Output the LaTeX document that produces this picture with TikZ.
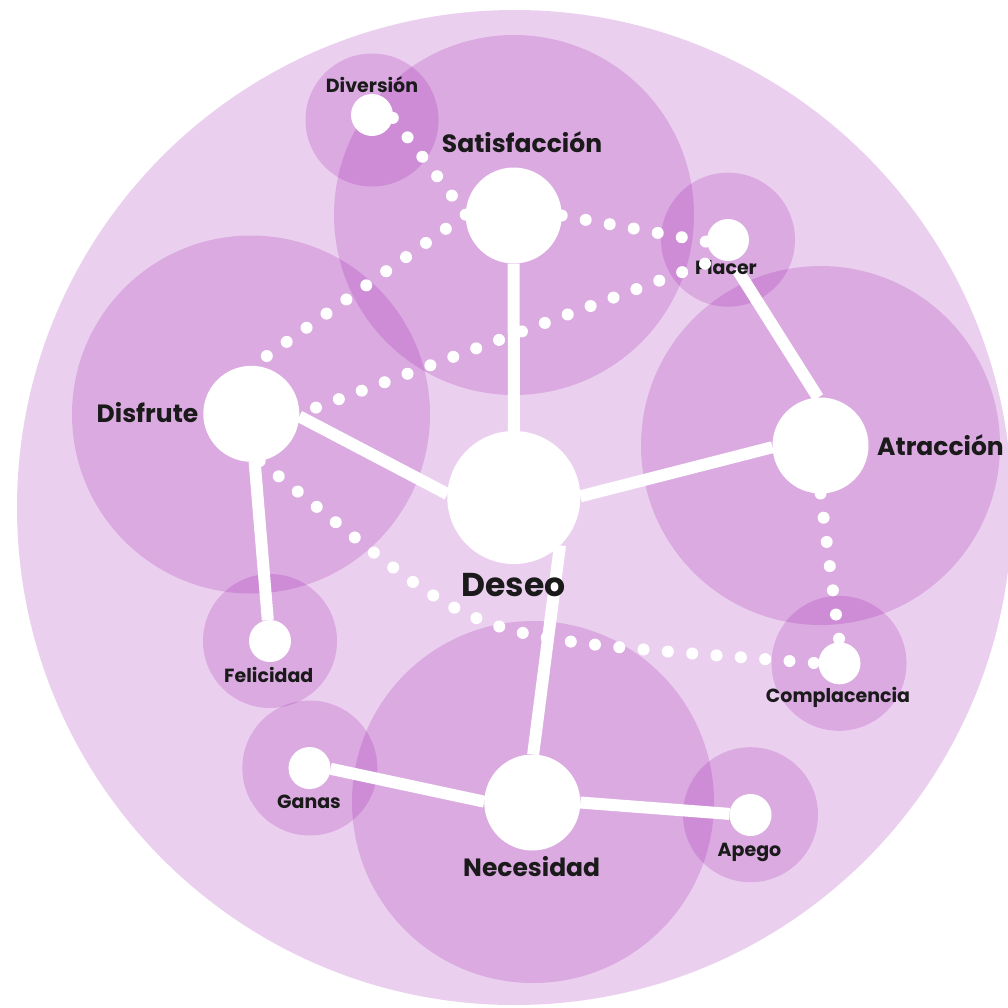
\documentclass[tikz,border=0pt]{standalone}
\usepackage{fontspec}
\setmainfont{Poppins}
\definecolor{plum}{RGB}{152,20,170}
\definecolor{ink}{RGB}{26,26,26}
\begin{document}
\begin{tikzpicture}[x=1pt,y=-1pt,
  halo/.style={fill=plum,fill opacity=0.2,draw=none},
  hubnode/.style={circle,fill=white,draw=none,inner sep=0pt,outer sep=0pt,minimum size=133pt},
  majornode/.style={circle,fill=white,draw=none,inner sep=0pt,outer sep=0pt,minimum size=96pt},
  minornode/.style={circle,fill=white,draw=none,inner sep=0pt,outer sep=0pt,minimum size=42pt},
  link/.style={draw=white,line width=12pt},
  dotlink/.style={draw=white,line width=12pt,line cap=round,dash pattern=on 0pt off 24.4pt},
  hublabel/.style={text=ink,anchor=base,inner sep=0pt,font=\bfseries\fontsize{33}{33}\selectfont},
  biglabel/.style={text=ink,anchor=base,inner sep=0pt,font=\bfseries\fontsize{25}{25}\selectfont},
  smalllabel/.style={text=ink,anchor=base,inner sep=0pt,font=\bfseries\fontsize{19}{19}\selectfont}]
\useasboundingbox (0,0) rectangle (1008,1007);
\clip (0,0) rectangle (1008,1007);
% halos
\fill[halo] (514.5,507.5) circle[radius=497.5pt];
\fill[halo] (514,215) circle[radius=180pt];
\fill[halo] (251,414.5) circle[radius=179pt];
\fill[halo] (820.5,445.5) circle[radius=179.5pt];
\fill[halo] (533,802) circle[radius=181pt];
\fill[halo] (372,120) circle[radius=66.5pt];
\fill[halo] (728,239.7) circle[radius=67pt];
\fill[halo] (270,641) circle[radius=67pt];
\fill[halo] (309.8,768) circle[radius=67.5pt];
\fill[halo] (839,663.3) circle[radius=67.5pt];
\fill[halo] (750.5,814.7) circle[radius=67.5pt];
% nodes
\node[hubnode] (deseo) at (513.8,497.5) {};
\node[majornode] (sat) at (513.7,215.5) {};
\node[majornode] (dis) at (251.3,413.8) {};
\node[majornode] (atr) at (820.5,445.5) {};
\node[majornode] (nec) at (532.3,802.5) {};
\node[minornode] (ndiv) at (372,115) {};
\node[minornode] (pla) at (728,240) {};
\node[minornode] (fel) at (270,641) {};
\node[minornode] (gan) at (309.5,768) {};
\node[minornode] (com) at (839.5,663.3) {};
\node[minornode] (ape) at (750.5,815) {};
% solid links
\draw[link] (sat.south) -- (deseo.north);
\draw[link] (dis.-3.7) -- (deseo.177);
\draw[link] (deseo.1) -- (atr.182);
\draw[link] (deseo.-46) -- (nec.89);
\draw[link,shorten <=9pt] (pla.-80) -- (atr.93);
\draw[link] (dis.-86) -- (fel.96);
\draw[link] (gan.-2) -- (nec.179);
\draw[link] (nec.0) -- (ape.177);
% labels
\node[hublabel] (ldeseo) at (513.7,596) {Deseo};
\node[biglabel] (lsat) at (522,152) {Satisfacción};
\node[biglabel] (ldis) at (147.5,422.7) {Disfrute};
\node[biglabel] (latr) at (940.5,455) {Atracción};
\node[biglabel] (lnec) at (531.7,876) {Necesidad};
\node[smalllabel] (ldiv) at (372,92) {Diversión};
\node[smalllabel] (lpla) at (726,274) {Placer};
\node[smalllabel] (lfel) at (268.8,682.3) {Felicidad};
\node[smalllabel] (lgan) at (309,808.5) {Ganas};
\node[smalllabel] (lcom) at (838,702.5) {Complacencia};
\node[smalllabel] (lape) at (749.5,856.5) {Apego};
% dotted links
\draw[dotlink] (ndiv.-8) -- (sat.178);
\draw[dotlink] (sat.179) -- (dis.88);
\draw[dotlink] (sat.0) -- (pla.185);
\draw[dotlink,dash phase=6.6pt] (dis.0) -- (pla.243);
\draw[dotlink] (atr.-90) -- (com.90);
\draw[dotlink] (dis.-80) .. controls (500,652) and (440,633) .. (com.west);
\end{tikzpicture}
\end{document}
